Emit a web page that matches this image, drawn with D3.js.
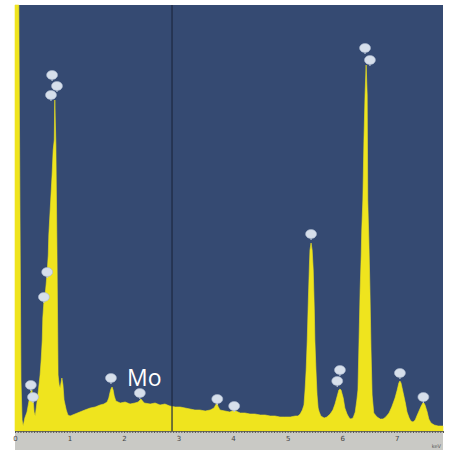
<!DOCTYPE html>
<html>
<head>
<meta charset="utf-8">
<script src="https://cdn.jsdelivr.net/npm/d3@7"></script>
<style>
  body { margin: 0; background: #fff; }
  svg { display: block; }
</style>
</head>
<body>
<svg id="chart"></svg>
<script>
// EDS spectrum, energy in keV, counts
const energy = [0, 0.07, 0.09, 0.11, 0.13, 0.15, 0.18, 0.22, 0.26, 0.29, 0.31, 0.33, 0.35, 0.37, 0.39,
  0.42, 0.44, 0.46, 0.48, 0.50, 0.51, 0.53, 0.55, 0.57, 0.59, 0.61, 0.62, 0.64, 0.66, 0.68, 0.70,
  0.72, 0.73, 0.75, 0.77, 0.79, 0.81, 0.83, 0.84, 0.86, 0.88, 0.90, 0.94, 0.97, 1.01, 1.10, 1.19,
  1.28, 1.38, 1.47, 1.56, 1.63, 1.69, 1.72, 1.74, 1.76, 1.78, 1.80, 1.82, 1.85, 1.93, 2.02, 2.11,
  2.20, 2.26, 2.31, 2.37, 2.48, 2.57, 2.66, 2.75, 2.84, 2.94, 3.03, 3.12, 3.21, 3.30, 3.39, 3.49,
  3.58, 3.65, 3.69, 3.71, 3.72, 3.76, 3.85, 3.94, 4.02, 4.05, 4.13, 4.22, 4.31, 4.40, 4.50, 4.59,
  4.68, 4.77, 4.86, 4.95, 5.05, 5.14, 5.19, 5.23, 5.27, 5.30, 5.32, 5.34, 5.36, 5.38, 5.40, 5.41,
  5.43, 5.45, 5.47, 5.49, 5.50, 5.52, 5.54, 5.56, 5.58, 5.61, 5.67, 5.72, 5.78, 5.83, 5.87, 5.91,
  5.94, 5.96, 5.98, 6.02, 6.05, 6.09, 6.13, 6.16, 6.20, 6.24, 6.27, 6.29, 6.31, 6.33, 6.35, 6.36,
  6.38, 6.40, 6.42, 6.44, 6.46, 6.47, 6.49, 6.51, 6.53, 6.55, 6.58, 6.64, 6.70, 6.75, 6.80, 6.86,
  6.91, 6.97, 7.01, 7.04, 7.06, 7.08, 7.12, 7.16, 7.19, 7.23, 7.26, 7.30, 7.34, 7.37, 7.41, 7.45,
  7.48, 7.50, 7.52, 7.56, 7.59, 7.63, 7.69, 7.76, 7.85]
const counts = [4260, 4260, 2310, 510, 110, 50, 130, 190, 310, 390, 410, 330, 190, 150, 230,
  360, 460, 560, 710, 910, 1130, 1290, 1350, 1460, 1590, 1760, 1960, 2160, 2360, 2560, 2810,
  2910, 3310, 2860, 1810, 560, 460, 430, 470, 530, 460, 310, 210, 160, 150, 170, 190,
  210, 230, 240, 260, 270, 290, 330, 380, 420, 440, 410, 350, 300, 280, 290, 270,
  280, 290, 320, 280, 270, 280, 260, 270, 250, 240, 240, 230, 220, 210, 210, 200,
  210, 230, 270, 290, 250, 210, 200, 190, 210, 200, 180, 180, 170, 170, 160, 160,
  150, 150, 140, 140, 140, 150, 150, 170, 210, 260, 410, 610, 910, 1310, 1660, 1810,
  1880, 1810, 1610, 1210, 910, 610, 360, 230, 190, 150, 130, 140, 170, 210, 270, 350,
  410, 420, 410, 330, 230, 170, 130, 120, 130, 190, 310, 410, 910, 1410, 1760, 2010,
  2310, 2910, 3360, 3660, 3360, 2310, 1910, 1410, 810, 360, 180, 140, 120, 120, 140, 180,
  240, 330, 410, 480, 500, 480, 380, 280, 190, 130, 100, 90, 110, 150, 200, 250,
  280, 280, 260, 190, 120, 80, 60, 50, 50]

// peak marker pins (keV, counts of the pin head)
const pinEnergy = [0.29, 0.33, 0.53, 0.59, 0.68, 0.77, 0.66, 1.76, 2.29, 3.71, 4.02, 5.43, 5.96, 5.91, 6.42, 6.51, 7.06, 7.49]
const pinCounts = [460, 340, 1340, 1590, 3560, 3450, 3360, 530, 380, 320, 250, 1970, 610, 500, 3830, 3710, 580, 340]

const tickValues = [0, 1, 2, 3, 4, 5, 6, 7]
const cursorKeV = 2.88

const width = 453, height = 451
const margin = {top: 5, right: 10, bottom: 20, left: 15}

const svg = d3.select("#chart").attr("width", width).attr("height", height)

const x = d3.scaleLinear().domain([0, 7.85]).range([margin.left, width - margin.right])
const y = d3.scaleLinear().domain([0, 4260]).range([height - margin.bottom, margin.top])

const data = energy.map((e, i) => ({e, c: counts[i]}))

svg.append("rect")
    .attr("x", margin.left).attr("y", margin.top)
    .attr("width", x.range()[1] - margin.left)
    .attr("height", y(0) - margin.top)
    .attr("fill", "#354a72")

const area = d3.area()
    .x(d => x(d.e))
    .y0(y(0))
    .y1(d => y(d.c))

svg.append("path")
    .datum(data)
    .attr("fill", "#efe41e")
    .attr("stroke", "#efe41e")
    .attr("stroke-width", 0.6)
    .attr("d", area)

// cursor line
svg.append("line")
    .attr("x1", x(cursorKeV)).attr("x2", x(cursorKeV))
    .attr("y1", margin.top).attr("y2", y(0))
    .attr("stroke", "#1d2840")
    .attr("stroke-width", 1.2)

// pins
const pins = svg.append("g")
  .selectAll("g")
  .data(pinEnergy.map((e, i) => ({e, c: pinCounts[i]})))
  .join("g")
    .attr("transform", d => `translate(${x(d.e)},${y(d.c)})`)
pins.append("line")
    .attr("y1", 0).attr("y2", 6)
    .attr("stroke", "#b9c6d8").attr("stroke-width", 1.2)
pins.append("ellipse")
    .attr("rx", 5.5).attr("ry", 4.5)
    .attr("fill", "#d6dfeb")
    .attr("stroke", "#a8b6cb").attr("stroke-width", 0.6)

svg.append("text")
    .attr("x", 127).attr("y", 386)
    .attr("fill", "#fff")
    .attr("font-family", "Open Sans, sans-serif")
    .attr("font-size", 23)
    .text("Mo")

// bottom axis strip
svg.append("rect")
    .attr("x", margin.left).attr("y", y(0))
    .attr("width", x.range()[1] - margin.left)
    .attr("height", height - 1 - y(0))
    .attr("fill", "#c9c9c5")

const minor = d3.range(0, 7.86, 0.05)
svg.append("g")
    .attr("transform", `translate(0,${y(0)})`)
    .call(d3.axisBottom(x).tickValues(minor).tickSize(2).tickFormat(""))
    .call(g => g.select(".domain").attr("stroke", "#6b6b5a"))
    .call(g => g.selectAll(".tick line").attr("stroke", "#555"))

svg.append("g")
    .attr("transform", `translate(0,${y(0)})`)
    .call(d3.axisBottom(x).tickValues(tickValues).tickSize(0).tickPadding(5).tickFormat(d3.format("d")))
    .call(g => g.select(".domain").remove())
    .call(g => g.selectAll("text")
        .attr("fill", "#444")
        .attr("font-size", 7)
        .attr("font-family", "DejaVu Sans, sans-serif"))

svg.append("text")
    .attr("x", x.range()[1] - 2).attr("y", height - 3)
    .attr("text-anchor", "end")
    .attr("fill", "#555")
    .attr("font-size", 5)
    .attr("font-family", "DejaVu Sans, sans-serif")
    .text("keV")
</script>
</body>
</html>
